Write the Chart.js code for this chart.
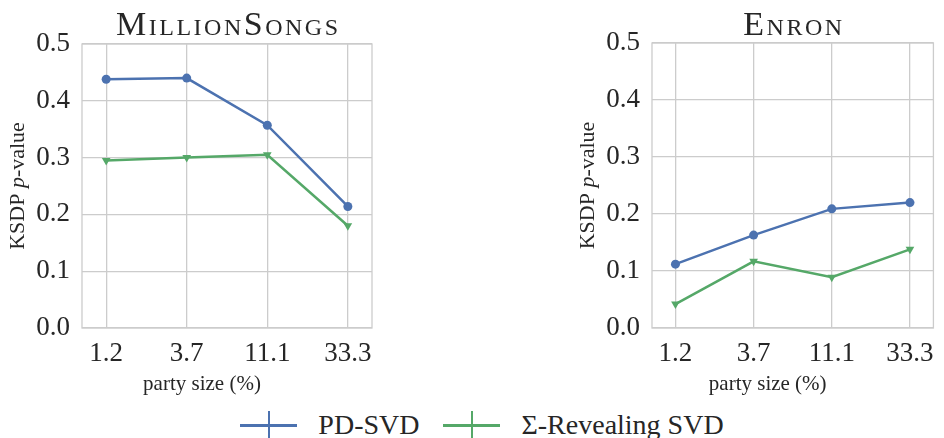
<!DOCTYPE html>
<html>
<head>
<meta charset="utf-8">
<script src="https://cdn.jsdelivr.net/npm/chart.js@4/dist/chart.umd.min.js"></script>
<style>
  body { margin: 0; background: #fff; width: 944px; height: 438px; overflow: hidden; position: relative; }
  .panel { position: absolute; top: 0; height: 400px; }
  #legend { position: absolute; top: 405px; left: 10px; width: 944px; display: flex; justify-content: center;
            font-family: "Liberation Serif", serif; font-size: 28px; color: #262626; align-items: center; }
  .item { display: flex; align-items: center; margin: 0 12px; }
  .mark { position: relative; width: 57px; height: 40px; margin-right: 21px; flex: none; }
  .mark .h { position: absolute; left: 0; right: 0; top: 19px; height: 2.5px; }
  .mark .v { position: absolute; left: 27.5px; width: 2px; top: 6px; height: 34px; }
</style>
</head>
<body>
<div class="panel" style="left:0;width:390px"><canvas id="songsChart"></canvas></div>
<div class="panel" style="left:570px;width:374px"><canvas id="enronChart"></canvas></div>
<div id="legend"></div>

<script>
// party size categories (%)
const partySizes = ['1.2', '3.7', '11.1', '33.3'];
const seriesNames = ['PD-SVD', 'Σ-Revealing SVD'];

// MillionSongs
const songsPD = [0.438, 0.440, 0.357, 0.214];
const songsSigma = [0.295, 0.300, 0.305, 0.180];

// Enron
const enronPD = [0.112, 0.163, 0.209, 0.220];
const enronSigma = [0.042, 0.117, 0.089, 0.138];

const yTickValues = [0.0, 0.1, 0.2, 0.3, 0.4, 0.5];

const BLUE = '#4c72b0';
const GREEN = '#55a868';
const GRID = '#cccccc';
const TEXT = '#262626';
const SERIF = '"Liberation Serif", "DejaVu Serif", serif';

// frame, panel title and axis titles (mixed italic) drawn on the canvas
const panelText = {
  id: 'panelText',
  beforeDatasetsDraw(chart) {
    const { ctx, chartArea: a } = chart;
    ctx.save();
    ctx.strokeStyle = GRID;
    ctx.lineWidth = 1.3;
    ctx.strokeRect(a.left, a.top, a.right - a.left, a.bottom - a.top);
    ctx.restore();
  },
  afterDraw(chart, args, opts) {
    const { ctx, chartArea: a } = chart;
    const cx = (a.left + a.right) / 2;
    ctx.save();
    ctx.fillStyle = TEXT;

    // title in small caps
    ctx.font = 'small-caps 34px ' + SERIF;
    ctx.letterSpacing = opts.spacing + 'px';
    ctx.textAlign = 'center';
    ctx.textBaseline = 'alphabetic';
    ctx.fillText(opts.title, cx + opts.spacing / 2, 35);
    ctx.letterSpacing = '0px';

    // x axis title
    ctx.font = '21px ' + SERIF;
    ctx.textBaseline = 'middle';
    ctx.fillText('party size (%)', cx - 25, 384);

    // y axis title: KSDP p-value with italic p
    const parts = [['KSDP ', ''], ['p', 'italic '], ['-value', '']];
    let total = 0;
    parts.forEach(p => { ctx.font = p[1] + '22px ' + SERIF; p.push(ctx.measureText(p[0]).width); total += p[2]; });
    ctx.translate(18, (a.top + a.bottom) / 2);
    ctx.rotate(-Math.PI / 2);
    ctx.textAlign = 'left';
    let x = -total / 2;
    parts.forEach(p => { ctx.font = p[1] + '22px ' + SERIF; ctx.fillText(p[0], x, 0); x += p[2]; });
    ctx.restore();
  }
};

function points(values) {
  return values.map((v, i) => ({ x: i, y: v }));
}

function makeChart(id, title, pd, sigma, pad) {
  const ctx = document.getElementById(id).getContext('2d');
  return new Chart(ctx, {
    type: 'line',
    data: {
      datasets: [{
        label: seriesNames[0],
        data: points(pd),
        borderColor: BLUE,
        backgroundColor: BLUE,
        borderWidth: 2.5,
        pointStyle: 'circle',
        pointRadius: 4.5,
        pointBorderWidth: 0
      }, {
        label: seriesNames[1],
        data: points(sigma),
        borderColor: GREEN,
        backgroundColor: GREEN,
        borderWidth: 2.5,
        pointStyle: 'triangle',
        pointRotation: 180,
        pointRadius: 5,
        pointBorderWidth: 0
      }]
    },
    options: {
      responsive: true,
      maintainAspectRatio: false,
      animation: false,
      layout: { padding: pad },
      plugins: {
        legend: { display: false },
        tooltip: { enabled: false },
        panelText: { title: title, spacing: 2.5 }
      },
      scales: {
        x: {
          type: 'linear',
          min: -0.3,
          max: 3.3,
          afterFit: s => { s.height = 72; },
          afterBuildTicks: s => { s.ticks = partySizes.map((c, i) => ({ value: i })); },
          grid: { color: GRID, lineWidth: 1.3, drawTicks: false },
          border: { display: false },
          ticks: {
            padding: 10,
            color: TEXT,
            font: { family: SERIF, size: 27 },
            callback: v => partySizes[v]
          }
        },
        y: {
          min: 0,
          max: 0.5,
          afterFit: s => { s.width = 82; },
          afterBuildTicks: s => { s.ticks = yTickValues.map(v => ({ value: v })); },
          grid: { color: GRID, lineWidth: 1.3, drawTicks: false },
          border: { display: false },
          ticks: {
            padding: 12,
            color: TEXT,
            font: { family: SERIF, size: 27 },
            callback: v => v.toFixed(1)
          }
        }
      }
    },
    plugins: [panelText]
  });
}

makeChart('songsChart', 'MillionSongs', songsPD, songsSigma, { top: 44, right: 18, left: 0, bottom: 0 });
makeChart('enronChart', 'Enron', enronPD, enronSigma, { top: 43, right: 2, left: 0, bottom: 0 });

// legend below both panels
const legend = document.getElementById('legend');
[BLUE, GREEN].forEach((c, i) => {
  const item = document.createElement('div');
  item.className = 'item';
  item.innerHTML = '<span class="mark"><span class="h" style="background:' + c + '"></span>' +
    '<span class="v" style="background:' + c + '"></span></span><span></span>';
  item.lastChild.textContent = seriesNames[i];
  legend.appendChild(item);
});
</script>
</body>
</html>
